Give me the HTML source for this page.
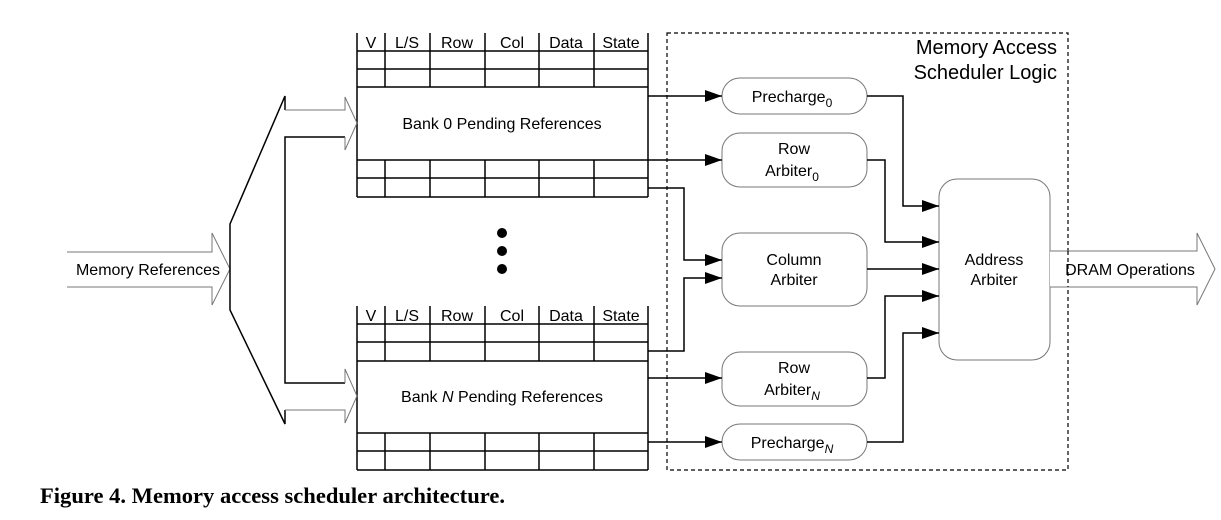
<!DOCTYPE html>
<html><head><meta charset="utf-8"><style>
html,body{margin:0;padding:0;background:#fff;}
svg{display:block;}
.s{font-family:"Liberation Sans",sans-serif;fill:#000;}
</style></head><body>
<svg width="1221" height="520" viewBox="0 0 1221 520" xmlns="http://www.w3.org/2000/svg">
<defs>
<marker id="ah" markerWidth="17" markerHeight="12" refX="17" refY="6" orient="auto" markerUnits="userSpaceOnUse">
<path d="M0,0 L17,6 L0,12 Z" fill="#000"/>
</marker>
</defs>
<g stroke="#000" stroke-width="1.5" fill="none">
<line x1="357" y1="33" x2="357" y2="197"/>
<line x1="648" y1="33" x2="648" y2="197"/>
<line x1="385" y1="33" x2="385" y2="87"/><line x1="430" y1="33" x2="430" y2="87"/><line x1="485" y1="33" x2="485" y2="87"/><line x1="539" y1="33" x2="539" y2="87"/><line x1="594" y1="33" x2="594" y2="87"/>
<line x1="385" y1="160" x2="385" y2="197"/><line x1="430" y1="160" x2="430" y2="197"/><line x1="485" y1="160" x2="485" y2="197"/><line x1="539" y1="160" x2="539" y2="197"/><line x1="594" y1="160" x2="594" y2="197"/>
<line x1="357" y1="51" x2="648" y2="51"/><line x1="357" y1="69" x2="648" y2="69"/><line x1="357" y1="87" x2="648" y2="87"/>
<line x1="357" y1="160" x2="648" y2="160"/><line x1="357" y1="178" x2="648" y2="178"/><line x1="357" y1="197" x2="648" y2="197"/>
<line x1="357" y1="306" x2="357" y2="470"/>
<line x1="648" y1="306" x2="648" y2="470"/>
<line x1="385" y1="306" x2="385" y2="361"/><line x1="430" y1="306" x2="430" y2="361"/><line x1="485" y1="306" x2="485" y2="361"/><line x1="539" y1="306" x2="539" y2="361"/><line x1="594" y1="306" x2="594" y2="361"/>
<line x1="385" y1="433" x2="385" y2="470"/><line x1="430" y1="433" x2="430" y2="470"/><line x1="485" y1="433" x2="485" y2="470"/><line x1="539" y1="433" x2="539" y2="470"/><line x1="594" y1="433" x2="594" y2="470"/>
<line x1="357" y1="324" x2="648" y2="324"/><line x1="357" y1="342" x2="648" y2="342"/><line x1="357" y1="361" x2="648" y2="361"/>
<line x1="357" y1="433" x2="648" y2="433"/><line x1="357" y1="451" x2="648" y2="451"/><line x1="357" y1="470" x2="648" y2="470"/>
</g>
<g class="s" font-size="16" text-anchor="middle">
<text x="371" y="48">V</text><text x="407" y="48">L/S</text><text x="457" y="48">Row</text><text x="512" y="48">Col</text><text x="566" y="48">Data</text><text x="621" y="48">State</text>
<text x="371" y="321">V</text><text x="407" y="321">L/S</text><text x="457" y="321">Row</text><text x="512" y="321">Col</text><text x="566" y="321">Data</text><text x="621" y="321">State</text>
<text x="502" y="129">Bank 0 Pending References</text>
<text x="502" y="402">Bank <tspan font-style="italic">N</tspan> Pending References</text>
</g>
<circle cx="502" cy="233" r="5"/><circle cx="502" cy="251" r="5"/><circle cx="502" cy="269" r="5"/>
<rect x="667" y="33" width="401" height="437" fill="none" stroke="#000" stroke-width="1.2" stroke-dasharray="4,3"/>
<text class="s" x="1057" y="54" font-size="20" text-anchor="end">Memory Access</text>
<text class="s" x="1057" y="79" font-size="20" text-anchor="end">Scheduler Logic</text>
<path d="M67,252 L212,252 L212,233 L230,269 L212,305 L212,287 L67,287" fill="#fff" stroke="#777" stroke-width="1"/>
<text class="s" x="148" y="275" font-size="16" text-anchor="middle">Memory References</text>
<path d="M285,110 L285,96 L230,224 L230,310 L285,424 L285,410" fill="none" stroke="#000" stroke-width="1.5"/>
<path d="M345,137 L285,137 L285,383 L345,383" fill="none" stroke="#000" stroke-width="1.5"/>
<path d="M285,110 L345,110 L345,97 L357,123 L345,150 L345,137" fill="none" stroke="#777" stroke-width="1"/>
<path d="M285,410 L345,410 L345,423 L357,396 L345,369 L345,383" fill="none" stroke="#777" stroke-width="1"/>
<g fill="#fff" stroke="#777" stroke-width="1">
<rect x="722" y="78" width="145" height="36" rx="18"/>
<rect x="722" y="133" width="145" height="54" rx="18"/>
<rect x="722" y="233" width="145" height="73" rx="18"/>
<rect x="722" y="352" width="145" height="54" rx="18"/>
<rect x="722" y="424" width="145" height="36" rx="18"/>
<rect x="939" y="179" width="111" height="181" rx="18"/>
</g>
<g class="s" font-size="16" text-anchor="middle">
<text x="792" y="102">Precharge<tspan font-size="12" dy="5">0</tspan></text>
<text x="794" y="154">Row</text>
<text x="792" y="176">Arbiter<tspan font-size="12" dy="5">0</tspan></text>
<text x="794" y="265">Column</text>
<text x="794" y="285">Arbiter</text>
<text x="794" y="373">Row</text>
<text x="792" y="395">Arbiter<tspan font-size="12" dy="5" font-style="italic">N</tspan></text>
<text x="792" y="448">Precharge<tspan font-size="12" dy="5" font-style="italic">N</tspan></text>
<text x="994" y="265">Address</text>
<text x="994" y="285">Arbiter</text>
</g>
<g stroke="#000" stroke-width="1.5" fill="none" marker-end="url(#ah)">
<path d="M648,96 L722,96"/>
<path d="M648,160 L722,160"/>
<path d="M648,188 L684,188 L684,260 L722,260"/>
<path d="M648,351 L684,351 L684,278 L722,278"/>
<path d="M648,378 L722,378"/>
<path d="M648,442 L722,442"/>
<path d="M867,96 L903,96 L903,206 L939,206"/>
<path d="M867,160 L885,160 L885,242 L939,242"/>
<path d="M867,269 L939,269"/>
<path d="M867,378 L885,378 L885,296 L939,296"/>
<path d="M867,442 L903,442 L903,333 L939,333"/>
</g>
<path d="M1050,251 L1197,251 L1197,233 L1215,269 L1197,305 L1197,287 L1050,287" fill="#fff" stroke="#777" stroke-width="1"/>
<line x1="1068" y1="251" x2="1068" y2="287" stroke="#000" stroke-width="1.2" stroke-dasharray="4,3"/>
<text class="s" x="1130" y="275" font-size="16" text-anchor="middle">DRAM Operations</text>
<text x="40" y="503" textLength="465" lengthAdjust="spacingAndGlyphs" style="font-family:'Liberation Serif',serif;font-weight:bold;font-size:22px;fill:#000">Figure 4. Memory access scheduler architecture.</text>
</svg>
</body></html>
